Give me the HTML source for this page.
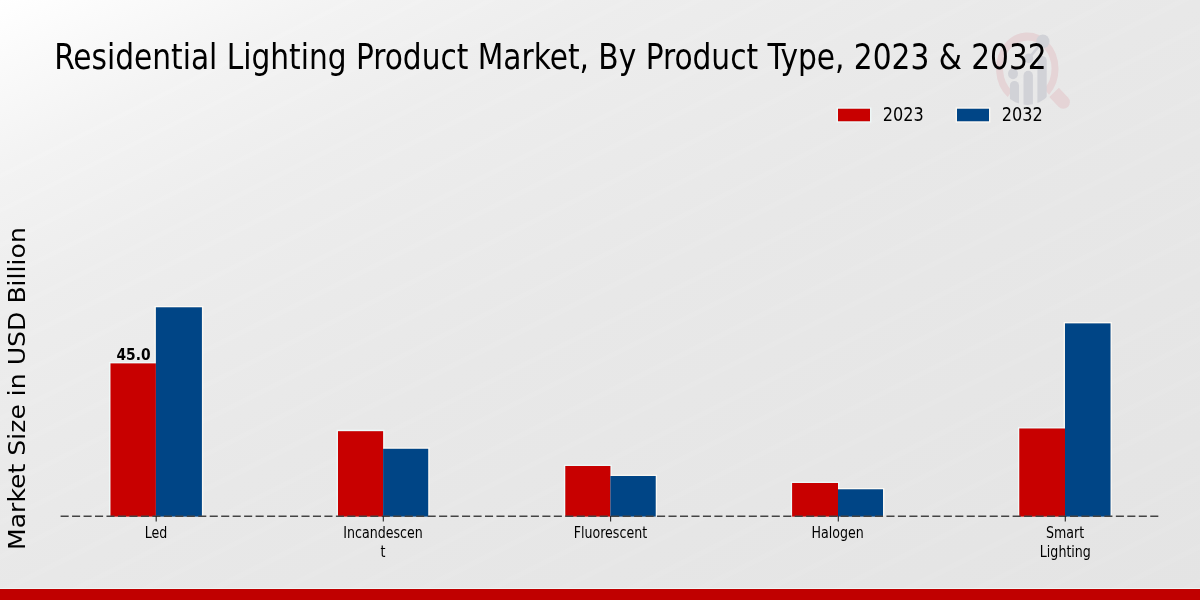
<!DOCTYPE html>
<html lang="en">
<head>
<meta charset="utf-8">
<title>Residential Lighting Product Market, By Product Type, 2023 &amp; 2032</title>
<style>
  html, body { margin: 0; padding: 0; }
  body { width: 1200px; height: 600px; overflow: hidden; background: #e6e6e6; }
  svg { display: block; }
  .cond { font-family: "DejaVu Sans Condensed", "DejaVu Sans", "Liberation Sans", sans-serif; font-stretch: condensed; }
  .reg { font-family: "DejaVu Sans", "Liberation Sans", sans-serif; font-stretch: normal; }
</style>
</head>
<body>
<svg width="1200" height="600" viewBox="0 0 1200 600">
  <defs>
    <linearGradient id="bg" gradientUnits="userSpaceOnUse" x1="0" y1="0" x2="480" y2="960">
      <stop offset="0" stop-color="#ffffff"/>
      <stop offset="0.058" stop-color="#fafafa"/>
      <stop offset="0.14" stop-color="#f3f3f3"/>
      <stop offset="0.26" stop-color="#ededed"/>
      <stop offset="0.39" stop-color="#eaeaea"/>
      <stop offset="0.5" stop-color="#e8e8e8"/>
      <stop offset="0.73" stop-color="#e6e6e6"/>
      <stop offset="1" stop-color="#e4e4e4"/>
    </linearGradient>
    <pattern id="streaks" patternUnits="userSpaceOnUse" width="200" height="31" patternTransform="rotate(-26.565)">
      <rect x="0" y="0" width="200" height="5" fill="#ffffff" opacity="0.045"/>
    </pattern>
    <clipPath id="lens">
      <ellipse cx="1027.3" cy="68.75" rx="31.2" ry="36.25"/>
    </clipPath>
  </defs>
  <rect x="0" y="0" width="1200" height="600" fill="url(#bg)"/>
  <rect x="0" y="0" width="1200" height="600" fill="url(#streaks)"/>

  <!-- watermark logo -->
  <g>
    <g transform="translate(1027.3 68.75) scale(0.861 1)">
      <path d="M22.5,23.03 A32.2,32.2 0 1 0 -20.2,25.07" fill="none" stroke="#e5d4d6" stroke-width="8.1"/>
    </g>
    <path transform="translate(1053.1 91.4) rotate(46.4)" d="M1.4,-6.6 L14.8,-6.6 A6.6,6.6 0 0 1 14.8,6.6 L1.4,6.6 Z" fill="#e5d4d6"/>
    <g fill="#d1d2d7" clip-path="url(#lens)">
      <rect x="1009.9" y="80.9" width="9.1" height="30" rx="4.5"/>
      <rect x="1023.5" y="70.8" width="9.4" height="40" rx="4.7"/>
      <rect x="1037.4" y="56" width="9.3" height="55" rx="4.6"/>
    </g>
    <line x1="1042.9" y1="41.4" x2="1028.7" y2="58.3" stroke="#d1d2d7" stroke-width="2.6"/>
    <g fill="#d1d2d7">
      <ellipse cx="1042.9" cy="41.4" rx="6.6" ry="7"/>
      <ellipse cx="1028.7" cy="58.3" rx="4.5" ry="4.9"/>
      <ellipse cx="1013" cy="73.75" rx="5" ry="5.4"/>
    </g>
  </g>

  <!-- bottom red band -->
  <rect x="0" y="588" width="1200" height="1" fill="#eef5f5"/>
  <rect x="0" y="589" width="1200" height="11" fill="#c00000"/>

  <!-- title -->
  <text class="cond" transform="translate(54.2 68.5) scale(0.9415 1)" font-size="35" fill="#000">Residential Lighting Product Market, By Product Type, 2023 &amp; 2032</text>

  <!-- soft light edge around bars -->
  <g fill="none" stroke-width="1.1">
    <rect x="837.20" y="107.95" width="33.60" height="14.10" stroke="#eefbfb"/>
    <rect x="956.20" y="107.95" width="33.60" height="14.10" stroke="#fdfaf4"/>
    <path d="M109.70,515.4 V362.60 H156.70 V515.4" stroke="#eefbfb"/>
    <path d="M155.10,515.4 V306.50 H202.70 V515.4" stroke="#fdfaf4"/>
    <path d="M337.20,515.4 V430.40 H383.90 V515.4" stroke="#eefbfb"/>
    <path d="M382.30,515.4 V448.00 H429.00 V515.4" stroke="#fdfaf4"/>
    <path d="M564.50,515.4 V465.20 H611.20 V515.4" stroke="#eefbfb"/>
    <path d="M609.60,515.4 V475.20 H656.50 V515.4" stroke="#fdfaf4"/>
    <path d="M791.30,515.4 V482.20 H838.80 V515.4" stroke="#eefbfb"/>
    <path d="M837.20,515.4 V488.50 H883.80 V515.4" stroke="#fdfaf4"/>
    <path d="M1018.50,515.4 V427.70 H1065.80 V515.4" stroke="#eefbfb"/>
    <path d="M1064.20,515.4 V322.60 H1111.30 V515.4" stroke="#fdfaf4"/>
  </g>

  <!-- legend -->
  <rect x="838" y="108.75" width="32" height="12.5" fill="#c80000"/>
  <text class="cond" transform="translate(882.85 121) scale(0.917 1)" font-size="19.5" fill="#000">2023</text>
  <rect x="957" y="108.75" width="32" height="12.5" fill="#004586"/>
  <text class="cond" transform="translate(1001.85 121) scale(0.917 1)" font-size="19.5" fill="#000">2032</text>

  <!-- y label -->
  <text class="reg" transform="translate(25.4 550) rotate(-90) scale(1 0.88)" font-size="25.13" fill="#000">Market Size in USD Billion</text>

  <!-- bars -->
  <g>
    <rect x="110.5" y="363.4" width="45.4" height="153.2" fill="#c80000"/>
    <rect x="155.9" y="307.3" width="46" height="209.3" fill="#004586"/>
    <rect x="338" y="431.2" width="45.1" height="85.4" fill="#c80000"/>
    <rect x="383.1" y="448.8" width="45.1" height="67.8" fill="#004586"/>
    <rect x="565.3" y="466" width="45.1" height="50.6" fill="#c80000"/>
    <rect x="610.4" y="476" width="45.3" height="40.6" fill="#004586"/>
    <rect x="792.1" y="483" width="45.9" height="33.6" fill="#c80000"/>
    <rect x="838" y="489.3" width="45" height="27.3" fill="#004586"/>
    <rect x="1019.3" y="428.5" width="45.7" height="88.1" fill="#c80000"/>
    <rect x="1065" y="323.4" width="45.5" height="193.2" fill="#004586"/>
  </g>

  <!-- value label -->
  <text class="cond" x="116.45" y="359.5" font-size="15.4" font-weight="bold" fill="#000">45.0</text>

  <!-- axis line -->
  <line x1="60.6" y1="516.25" x2="1158.7" y2="516.25" stroke="#444444" stroke-width="1.5" stroke-dasharray="8.07 3.4"/>
  <!-- ticks -->
  <g stroke="#262626" stroke-width="1.1">
    <line x1="156.2" y1="516" x2="156.2" y2="521.5"/>
    <line x1="383.3" y1="516" x2="383.3" y2="521.5"/>
    <line x1="610.6" y1="516" x2="610.6" y2="521.5"/>
    <line x1="838.3" y1="516" x2="838.3" y2="521.5"/>
    <line x1="1065.3" y1="516" x2="1065.3" y2="521.5"/>
  </g>

  <!-- x tick labels -->
  <g class="cond" font-size="16" text-anchor="middle" fill="#000">
    <text transform="translate(156 538.3) scale(0.878 1)">Led</text>
    <text transform="translate(383 538.3) scale(0.878 1)">Incandescen</text>
    <text transform="translate(383.1 557.2) scale(0.878 1)">t</text>
    <text transform="translate(610.4 538.3) scale(0.878 1)">Fluorescent</text>
    <text transform="translate(837.6 538.3) scale(0.878 1)">Halogen</text>
    <text transform="translate(1065.1 538.3) scale(0.878 1)">Smart</text>
    <text transform="translate(1065.35 557.2) scale(0.878 1)">Lighting</text>
  </g>
</svg>
</body>
</html>
